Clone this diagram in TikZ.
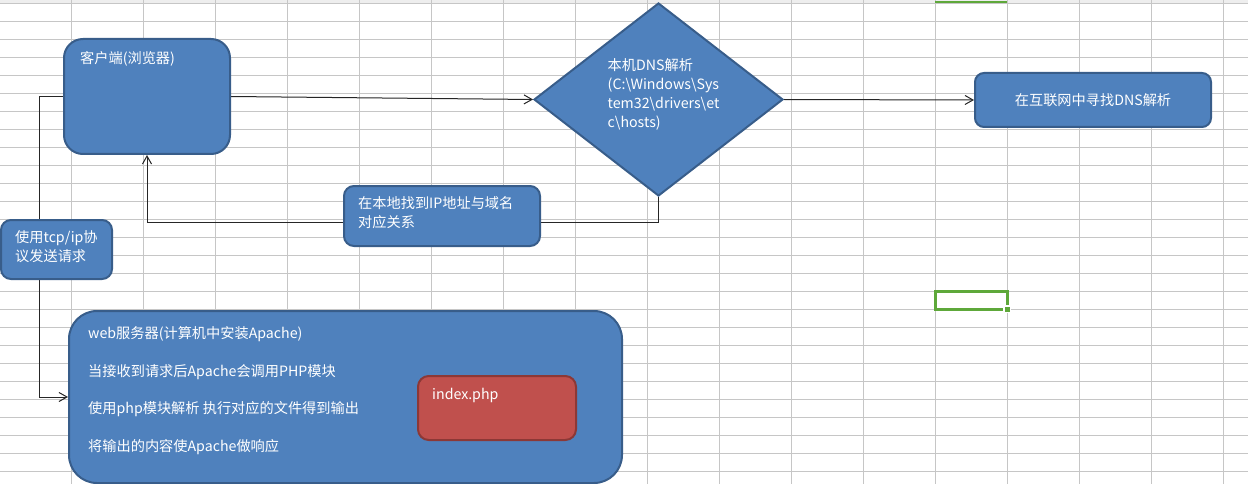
\documentclass[tikz,border=0pt]{standalone}
\usepackage{fontspec}
\setmainfont{Noto Sans CJK SC}
\usetikzlibrary{shapes.geometric,arrows.meta}

\definecolor{boxblue}{HTML}{4F81BD}
\definecolor{boxline}{HTML}{385D8A}
\definecolor{boxred}{HTML}{C0504D}
\definecolor{redline}{HTML}{8C3836}
\definecolor{cellgrid}{HTML}{C6C6C6}
\definecolor{headgray}{HTML}{EEEEEE}
\definecolor{selgreen}{HTML}{5EA83A}

\pgfdeclarelayer{background}
\pgfsetlayers{background,main}

\tikzset{
  bluebox/.style={draw=boxline, fill=boxblue, line width=2pt, inner sep=0pt},
  redbox/.style={draw=redline, fill=boxred, line width=2pt, inner sep=0pt, rounded corners=10.7pt},
  boxtext/.style={text=white, inner sep=0pt, align=left, font=\fontsize{14.2}{19}\selectfont},
  flow/.style={draw=black!85, line width=1pt, -{Straight Barb[length=8pt,width=9pt]}}
}

\begin{document}
\begin{tikzpicture}[x=1pt, y=-1pt]
    \useasboundingbox (0,0) rectangle (1248,484);
    \begin{pgfonlayer}{background}
      \fill[white] (0,0) rectangle (1248,484);
      \fill[headgray] (0,0) rectangle (1248,3.3);
      \foreach \gx in {0,...,16}
        \draw[cellgrid, line width=1pt] (71.3+72*\gx,0) -- (71.3+72*\gx,484);
      \foreach \gy in {0,...,26}
        \draw[cellgrid, line width=1pt] (0,3.3+18*\gy) -- (1248,3.3+18*\gy);
      % selected cell
      \draw[selgreen, line width=2pt] (935.3,2.3) -- (1007.3,2.3);
      \draw[selgreen, line width=2.5pt] (935.3,291.3) rectangle (1007.3,309.3);
      \fill[white] (1002.5,304.5) rectangle (1011,313);
      \fill[selgreen] (1004.5,306.5) rectangle (1010,312);
    \end{pgfonlayer}

    % shapes
    \node[bluebox, rounded corners=19pt, minimum width=166pt, minimum height=115pt] (client) at (147,96.5) {};
    \node[bluebox, diamond, minimum width=249pt, minimum height=193pt] (dns) at (658.5,99.5) {};
    \node[bluebox, rounded corners=9pt, minimum width=236pt, minimum height=54pt] (net) at (1093,100) {};
    \node[bluebox, rounded corners=10pt, minimum width=196pt, minimum height=60pt] (local) at (442,216) {};
    \node[bluebox, rounded corners=10pt, minimum width=111pt, minimum height=59pt] (tcp) at (56.5,249.5) {};
    \node[bluebox, rounded corners=28pt, minimum width=553pt, minimum height=172pt] (web) at (345.5,397) {};
    \node[redbox, minimum width=158pt, minimum height=64pt] (index) at (497,408) {};

    % texts
    \node[boxtext, anchor=west] (clienttext) at (80,59) {客户端(浏览器)};
    \node[boxtext, anchor=west] (dnstext) at (607.5,94)
      {本机DNS解析\\(C:\textbackslash Windows\textbackslash Sys\\tem32\textbackslash drivers\textbackslash et\\c\textbackslash hosts)};
    \node[boxtext] (nettext) at (1093,100) {在互联网中寻找DNS解析};
    \node[boxtext, anchor=west] (localtext) at (358,212.5) {在本地找到IP地址与域名\\对应关系};
    \node[boxtext, anchor=west] (tcptext) at (15,246.5) {使用tcp/ip协\\议发送请求};
    \node[boxtext, anchor=west] (webtext) at (88,390.5)
      {web服务器(计算机中安装Apache)\\[18.5pt]
       当接收到请求后Apache会调用PHP模块\\[18.5pt]
       使用php模块解析 执行对应的文件得到输出\\[18.5pt]
       将输出的内容使Apache做响应};
    \node[boxtext, anchor=west] (indextext) at (432,395) {index.php};

    % connectors
    \begin{pgfonlayer}{background}
      \draw[flow] (client.east) -- (dns.west);
      \draw[flow] (dns.east) -- (net.west);
      \draw[flow] (dns.south) -- ++(0,25) -| (client.south);
      \draw[flow] (client.west) -- ++(-24,0) |- (web.west);
    \end{pgfonlayer}
  \end{tikzpicture}
\end{document}
